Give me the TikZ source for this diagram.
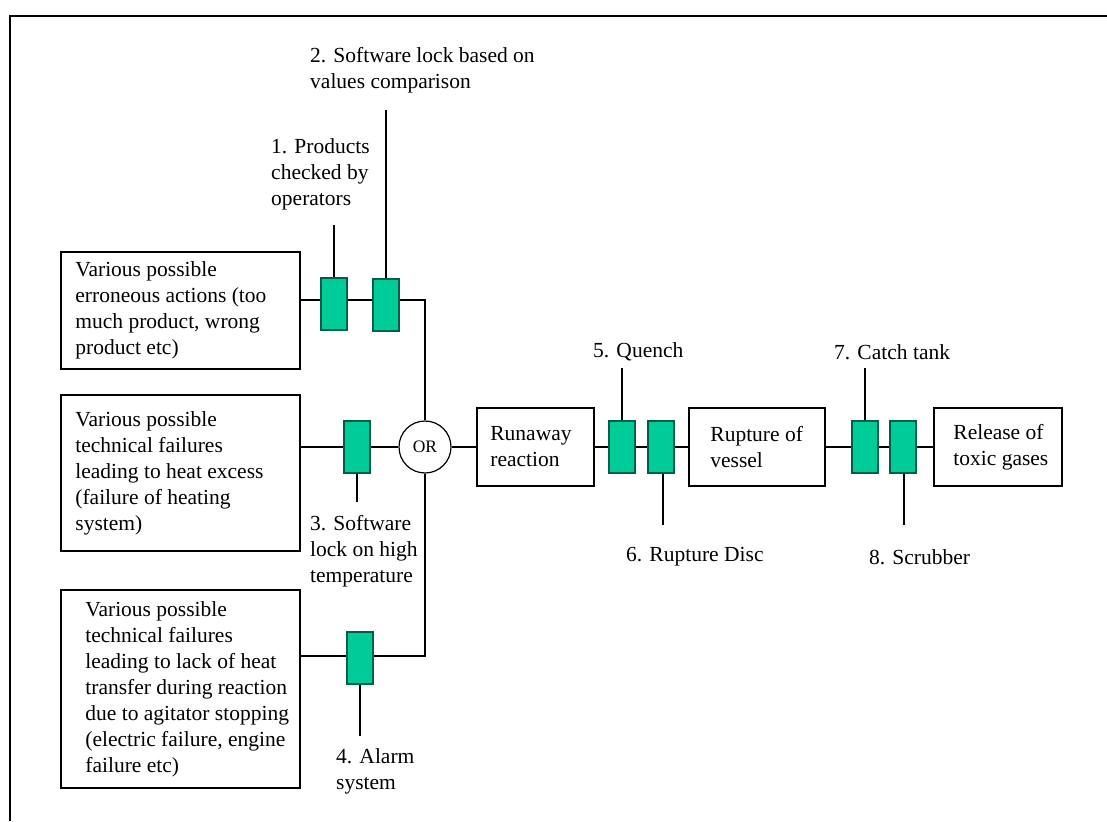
\documentclass[tikz,border=0pt]{standalone}
\usepackage{fontspec}
\setmainfont{Liberation Serif}
\usetikzlibrary{backgrounds}
\definecolor{barrierfill}{RGB}{0,204,153}
\definecolor{barrierline}{RGB}{0,95,70}
\begin{document}
\begin{tikzpicture}[x=1pt,y=-1pt,
  font=\fontsize{21.5}{26}\selectfont,
  evbox/.style={draw, line width=1.6pt, rectangle, inner sep=0pt},
  evtext/.style={anchor=west, align=left, inner sep=0pt},
  lbl/.style={anchor=west, align=left, inner sep=0pt},
  barrier/.style={draw=barrierline, fill=barrierfill, line width=1.3pt, rectangle, inner sep=0pt, minimum width=26pt, minimum height=52pt},
  gate/.style={draw, line width=1.2pt, circle, inner sep=0pt, minimum size=52pt, font=\fontsize{17.5}{20}\selectfont},
  conn/.style={line width=1.4pt}
]
\useasboundingbox (0,0) rectangle (1107,821);
\begin{pgfonlayer}{background}
\fill[white] (0,0) rectangle (1107,821);
\end{pgfonlayer}
\draw[line width=2.2pt] (10,821) -- (10,16) -- (1107,16);

% event boxes
\node[evbox, minimum width=239pt, minimum height=117pt] (b1) at (180.5,310.5) {};
\node[evtext] (b1t) at ([xshift=15pt]b1.west) {Various possible\\erroneous actions (too\\much product, wrong\\product etc)};
\node[evbox, minimum width=239pt, minimum height=156pt] (b2) at (180.5,473) {};
\node[evtext] (b2t) at ([xshift=15pt]b2.west) {Various possible\\technical failures\\leading to heat excess\\(failure of heating\\system)};
\node[evbox, minimum width=239pt, minimum height=198pt] (b3) at (180.5,689) {};
\node[evtext] (b3t) at ([xshift=25pt]b3.west) {Various possible\\technical failures\\leading to lack of heat\\transfer during reaction\\due to agitator stopping\\(electric failure, engine\\failure etc)};

\node[gate] (or) at (425,447) {OR};

\node[evbox, minimum width=117pt, minimum height=78pt] (run) at (535.5,447) {};
\node[evtext] (runt) at ([xshift=14pt]run.west) {Runaway\\reaction};
\node[evbox, minimum width=136pt, minimum height=78pt] (rup) at (757,447) {};
\node[evtext] (rupt) at ([xshift=22pt]rup.west) {Rupture of\\vessel};
\node[evbox, minimum width=128pt, minimum height=78pt] (rel) at (998,447) {};
\node[evtext] (relt) at ([xshift=20pt]rel.west) {Release of\\toxic gases};

% barriers
\node[barrier] (g1) at (334,304) {};
\node[barrier] (g2) at (386,305) {};
\node[barrier] (g3) at (357,447) {};
\node[barrier] (g4) at (360,658) {};
\node[barrier] (g5) at (622,447) {};
\node[barrier] (g6) at (661,447) {};
\node[barrier] (g7) at (865,447) {};
\node[barrier] (g8) at (903,447) {};

% labels
\node[lbl] (l1) at (271,174) {1. Products\\checked by\\operators};
\node[lbl] (l2) at (310,70) {2. Software lock based on\\values comparison};
\node[lbl] (l3) at (310,551) {3. Software\\lock on high\\temperature};
\node[lbl] (l4) at (336,771.5) {4. Alarm\\system};
\node[lbl] (l5) at (593,352) {5. Quench};
\node[lbl] (l6) at (626,557) {6. Rupture Disc};
\node[lbl] (l7) at (834,352) {7. Catch tank};
\node[lbl] (l8) at (869,557) {8. Scrubber};

% junctions and leader ends
\coordinate (j1) at (425,300);
\coordinate (j4) at (425,656);
\coordinate (t1) at (334,225);
\coordinate (t2) at (386,110);
\coordinate (t3) at (357,502);
\coordinate (t4) at (360,736);
\coordinate (t5) at (622,368);
\coordinate (t6) at (663,525);
\coordinate (t7) at (865,368);
\coordinate (t8) at (904,525);

\begin{pgfonlayer}{background}
\draw[conn] (b1.east |- j1) -- (j1) -- (or.north);
\draw[conn] (b2.east |- or) -- (or.west);
\draw[conn] (or.south) -- (j4) -- (b3.east |- j4);
\draw[conn] (or.east) -- (run.west);
\draw[conn] (run.east) -- (rup.west);
\draw[conn] (rup.east) -- (rel.west);
\end{pgfonlayer}

% leader lines
\draw[conn] (t1) -- (t1 |- g1.north);
\draw[conn] (t2) -- (t2 |- g2.north);
\draw[conn] (t3 |- g3.south) -- (t3);
\draw[conn] (t4 |- g4.south) -- (t4);
\draw[conn] (t5) -- (t5 |- g5.north);
\draw[conn] (t6 |- g6.south) -- (t6);
\draw[conn] (t7) -- (t7 |- g7.north);
\draw[conn] (t8 |- g8.south) -- (t8);
\end{tikzpicture}
\end{document}
